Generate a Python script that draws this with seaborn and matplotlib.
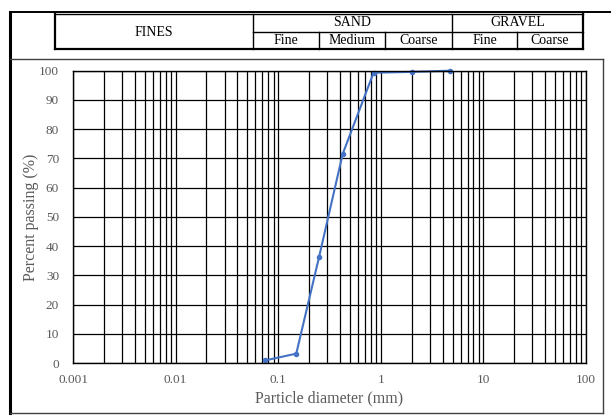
import matplotlib
matplotlib.use("Agg")
import matplotlib.pyplot as plt
from matplotlib.ticker import LogLocator, FixedLocator, NullFormatter
from matplotlib.lines import Line2D
import seaborn as sns

# Datos de la curva granulométrica
diametro = [0.075, 0.15, 0.25, 0.425, 0.85, 2.0, 4.75]
pasa = [0.9, 3.2, 36.2, 71.5, 99.3, 99.6, 100.0]

x_ticks = [0.001, 0.01, 0.1, 1, 10, 100]
x_labels = ["0.001", "0.01", "0.1", "1", "10", "100"]
y_ticks = list(range(0, 101, 10))

# Cabecera de clasificación
grupos = ["FINES", "SAND", "GRAVEL"]
subgrupos = ["Fine", "Medium", "Coarse", "Fine", "Coarse"]

plt.rcParams["font.family"] = ["Liberation Serif", "DejaVu Serif"]
gris = "#595959"

fig = plt.figure(figsize=(6.11, 4.20), dpi=100)

# Capa en pixeles para los marcos y la tabla de la cabecera
capa = fig.add_axes([0, 0, 1, 1])
capa.set_xlim(0, 611)
capa.set_ylim(420, 0)
capa.axis("off")

def linea(x0, y0, x1, y1, lw=1.0, color="black"):
    capa.add_line(Line2D([x0, x1], [y0, y1], lw=lw, color=color))

# Marco exterior
linea(10, 12, 611, 12, lw=1.4)
linea(10, 12, 10, 413, lw=2.2)
# Marco del gráfico
linea(10, 59, 603, 59, lw=1.0, color="#404040")
linea(603, 59, 603, 413, lw=1.0, color="#404040")
linea(10, 413, 603, 413, lw=1.0, color="#404040")

# Tabla de la cabecera
bordes = [253, 319, 385, 452, 517, 583]
linea(55, 14, 583, 14, lw=1.0)
linea(55, 49, 583, 49, lw=1.6)
linea(253, 32, 583, 32, lw=1.0)
linea(55, 14, 55, 49, lw=1.6)
linea(253, 14, 253, 49, lw=1.0)
linea(452, 14, 452, 49, lw=1.0)
linea(583, 14, 583, 49, lw=1.6)
for xb in [319, 385, 517]:
    linea(xb, 32, xb, 49, lw=1.0)

centros_grupo = [(55 + 253) / 2, (253 + 452) / 2, (452 + 583) / 2]
capa.text(centros_grupo[0], 32, grupos[0], ha="center", va="center", fontsize=10)
capa.text(centros_grupo[1], 23, grupos[1], ha="center", va="center", fontsize=10)
capa.text(centros_grupo[2], 23, grupos[2], ha="center", va="center", fontsize=10)
for i, nombre in enumerate(subgrupos):
    xc = (bordes[i] + bordes[i + 1]) / 2
    capa.text(xc, 41, nombre, ha="center", va="center", fontsize=10)

# Gráfico principal
ax = fig.add_axes([73 / 611, 1 - 363 / 420, (586 - 73) / 611, (363 - 70.7) / 420])
ax.set_xscale("log")
ax.set_xlim(0.001, 100)
ax.set_ylim(0, 100)

ax.xaxis.set_major_locator(FixedLocator(x_ticks))
ax.set_xticklabels(x_labels)
ax.xaxis.set_minor_locator(LogLocator(base=10, subs=range(2, 10), numticks=20))
ax.xaxis.set_minor_formatter(NullFormatter())
ax.set_yticks(y_ticks)

ax.grid(which="both", axis="x", color="black", lw=0.9)
ax.grid(which="major", axis="y", color="black", lw=0.9)
ax.set_axisbelow(True)
for s in ax.spines.values():
    s.set_color("black")
    s.set_linewidth(1.0)

ax.tick_params(which="both", length=0, labelsize=9.5, labelcolor=gris)
ax.tick_params(axis="x", pad=8)
ax.tick_params(axis="y", pad=10)

sns.lineplot(x=diametro, y=pasa, ax=ax, color="#4472C4", lw=1.5,
             marker="o", markersize=4, markeredgewidth=0)
for ln in ax.lines:
    ln.set_clip_on(False)

ax.set_xlabel("Particle diameter (mm)", fontsize=11.5, color=gris, labelpad=3)
ax.set_ylabel("Percent passing (%)", fontsize=11.5, color=gris, labelpad=0)

fig.savefig("out.png", dpi=100)
